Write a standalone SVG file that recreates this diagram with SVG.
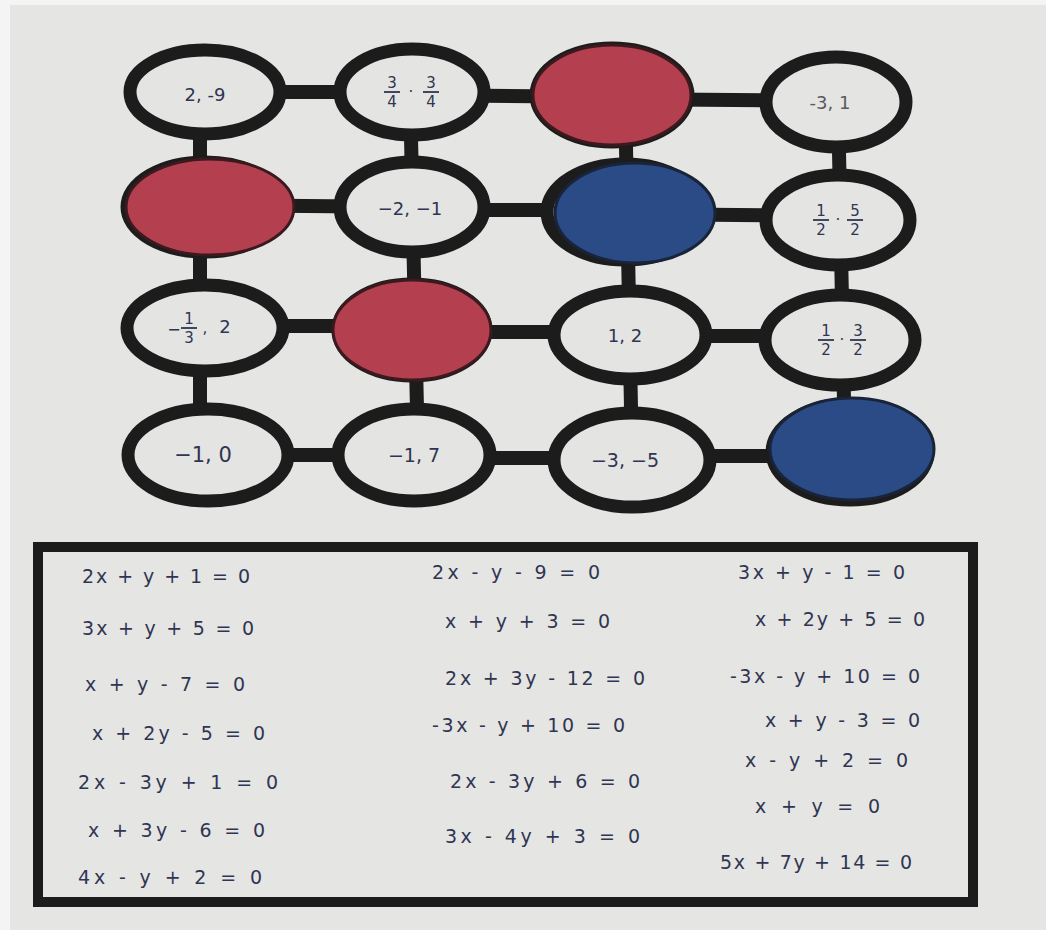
<svg xmlns="http://www.w3.org/2000/svg" width="1046" height="930" viewBox="0 0 1046 930">
<defs>
<style>
.ring{fill:#e4e4e2;stroke:#1c1c1c;stroke-width:13}
.red{fill:#b33f4f;stroke:#3a1a1e;stroke-width:3}
.blue{fill:#2b4b87;stroke:#1a2438;stroke-width:3}
.conn{stroke:#1c1c1c;stroke-width:14;stroke-linecap:butt;fill:none}
.lbl{font-family:"DejaVu Sans","Liberation Sans",sans-serif;font-size:18px;fill:#2f3552;text-anchor:middle;dominant-baseline:central}
.frac{font-family:"DejaVu Sans","Liberation Sans",sans-serif;font-size:15px;fill:#2f3552;text-anchor:middle}
.fl{stroke:#2f3552;stroke-width:1.8}
.eq{font-family:"DejaVu Sans","Liberation Sans",sans-serif;font-size:19px;fill:#2f3552;dominant-baseline:central}
</style>
</defs>
<rect x="0" y="0" width="1046" height="930" fill="#e5e5e3"/>
<rect x="0" y="0" width="10" height="930" fill="#f4f4f4"/>
<rect x="0" y="0" width="1046" height="5" fill="#f4f4f4"/>

<g id="connectors">
<line class="conn" x1="205" y1="92" x2="410" y2="92"/>
<line class="conn" x1="410" y1="95" x2="612" y2="97"/>
<line class="conn" x1="612" y1="99" x2="835" y2="101"/>
<line class="conn" x1="208" y1="205" x2="410" y2="207"/>
<line class="conn" x1="410" y1="210" x2="632" y2="210"/>
<line class="conn" x1="632" y1="214" x2="838" y2="216"/>
<line class="conn" x1="205" y1="326" x2="412" y2="326"/>
<line class="conn" x1="412" y1="332" x2="630" y2="332"/>
<line class="conn" x1="630" y1="336" x2="840" y2="336"/>
<line class="conn" x1="208" y1="455" x2="412" y2="455"/>
<line class="conn" x1="412" y1="458" x2="630" y2="458"/>
<line class="conn" x1="630" y1="456" x2="852" y2="456"/>
<line class="conn" x1="200" y1="92" x2="200" y2="455"/>
<line class="conn" x1="410" y1="92" x2="418" y2="455"/>
<line class="conn" x1="625" y1="95" x2="632" y2="460"/>
<line class="conn" x1="838" y1="102" x2="845" y2="450"/>
</g>

<g id="n11"><ellipse class="ring" cx="205" cy="92" rx="75" ry="42"/><text class="lbl" x="205" y="94">2, -9</text></g>
<g id="n12"><ellipse class="ring" cx="412" cy="92" rx="72" ry="43"/>
<text class="frac" x="392" y="88">3</text><line class="fl" x1="384" y1="92" x2="400" y2="92"/><text class="frac" x="392" y="107">4</text>
<text class="frac" x="411" y="97">·</text>
<text class="frac" x="431" y="88">3</text><line class="fl" x1="423" y1="92" x2="439" y2="92"/><text class="frac" x="431" y="107">4</text></g>
<g id="n13"><ellipse class="ring" cx="612" cy="95" rx="76" ry="47"/><ellipse class="red" cx="612" cy="95" rx="79" ry="50"/></g>
<g id="n14"><ellipse class="ring" cx="836" cy="102" rx="70" ry="45"/><text class="lbl" x="830" y="102" style="fill:#5a5a60">-3, 1</text></g>

<g id="n21"><ellipse class="ring" cx="205" cy="207" rx="78" ry="45"/><ellipse class="red" cx="210" cy="207" rx="84" ry="48"/></g>
<g id="n22"><ellipse class="ring" cx="412" cy="207" rx="72" ry="45"/><text class="lbl" x="410" y="208">−2, −1</text></g>
<g id="n23"><ellipse class="ring" cx="625" cy="212" rx="78" ry="48"/><ellipse class="blue" cx="635" cy="213" rx="80" ry="50"/></g>
<g id="n24"><ellipse class="ring" cx="838" cy="220" rx="72" ry="45"/>
<text class="frac" x="821" y="216">1</text><line class="fl" x1="813" y1="220" x2="829" y2="220"/><text class="frac" x="821" y="235">2</text>
<text class="frac" x="838" y="225">·</text>
<text class="frac" x="855" y="216">5</text><line class="fl" x1="847" y1="220" x2="863" y2="220"/><text class="frac" x="855" y="235">2</text></g>

<g id="n31"><ellipse class="ring" cx="205" cy="328" rx="78" ry="43"/>
<text class="lbl" x="174" y="329" style="font-size:16px">−</text>
<text class="frac" x="189" y="324">1</text><line class="fl" x1="181" y1="328" x2="197" y2="328"/><text class="frac" x="189" y="343">3</text>
<text class="frac" x="205" y="333">,</text>
<text class="lbl" x="225" y="326">2</text></g>
<g id="n32"><ellipse class="ring" cx="412" cy="330" rx="74" ry="46"/><ellipse class="red" cx="412" cy="330" rx="79" ry="50"/></g>
<g id="n33"><ellipse class="ring" cx="630" cy="335" rx="76" ry="44"/><text class="lbl" x="625" y="335">1, 2</text></g>
<g id="n34"><ellipse class="ring" cx="840" cy="340" rx="75" ry="45"/>
<text class="frac" x="826" y="336">1</text><line class="fl" x1="818" y1="340" x2="834" y2="340"/><text class="frac" x="826" y="355">2</text>
<text class="frac" x="842" y="345">·</text>
<text class="frac" x="858" y="336">3</text><line class="fl" x1="850" y1="340" x2="866" y2="340"/><text class="frac" x="858" y="355">2</text></g>

<g id="n41"><ellipse class="ring" cx="208" cy="455" rx="80" ry="46"/><text class="lbl" x="203" y="455" style="font-size:21px">−1, 0</text></g>
<g id="n42"><ellipse class="ring" cx="414" cy="455" rx="76" ry="46"/><text class="lbl" x="414" y="455" style="font-size:19px">−1, 7</text></g>
<g id="n43"><ellipse class="ring" cx="632" cy="460" rx="78" ry="47"/><text class="lbl" x="625" y="460" style="font-size:19px">−3, −5</text></g>
<g id="n44"><ellipse class="ring" cx="850" cy="452" rx="78" ry="48"/><ellipse class="blue" cx="852" cy="449" rx="82" ry="51"/></g>

<g id="equations">
<rect x="38" y="547" width="935" height="355" fill="none" stroke="#1c1c1c" stroke-width="10"/>
<text class="eq" x="82" y="576" textLength="168" lengthAdjust="spacing">2x + y + 1 = 0</text>
<text class="eq" x="82" y="628" textLength="172" lengthAdjust="spacing">3x + y + 5 = 0</text>
<text class="eq" x="85" y="684" textLength="160" lengthAdjust="spacing">x + y - 7 = 0</text>
<text class="eq" x="92" y="733" textLength="173" lengthAdjust="spacing">x + 2y - 5 = 0</text>
<text class="eq" x="78" y="782" textLength="200" lengthAdjust="spacing">2x - 3y + 1 = 0</text>
<text class="eq" x="88" y="830" textLength="177" lengthAdjust="spacing">x + 3y - 6 = 0</text>
<text class="eq" x="78" y="877" textLength="184" lengthAdjust="spacing">4x - y + 2 = 0</text>

<text class="eq" x="432" y="572" textLength="168" lengthAdjust="spacing">2x - y - 9 = 0</text>
<text class="eq" x="445" y="621" textLength="165" lengthAdjust="spacing">x + y + 3 = 0</text>
<text class="eq" x="445" y="678" textLength="200" lengthAdjust="spacing">2x + 3y - 12 = 0</text>
<text class="eq" x="432" y="725" textLength="193" lengthAdjust="spacing">-3x - y + 10 = 0</text>
<text class="eq" x="450" y="781" textLength="190" lengthAdjust="spacing">2x - 3y + 6 = 0</text>
<text class="eq" x="445" y="836" textLength="195" lengthAdjust="spacing">3x - 4y + 3 = 0</text>

<text class="eq" x="738" y="572" textLength="167" lengthAdjust="spacing">3x + y - 1 = 0</text>
<text class="eq" x="755" y="619" textLength="170" lengthAdjust="spacing">x + 2y + 5 = 0</text>
<text class="eq" x="730" y="676" textLength="190" lengthAdjust="spacing">-3x - y + 10 = 0</text>
<text class="eq" x="765" y="720" textLength="155" lengthAdjust="spacing">x + y - 3 = 0</text>
<text class="eq" x="745" y="760" textLength="163" lengthAdjust="spacing">x - y + 2 = 0</text>
<text class="eq" x="755" y="806" textLength="125" lengthAdjust="spacing">x + y = 0</text>
<text class="eq" x="720" y="862" textLength="192" lengthAdjust="spacing">5x + 7y + 14 = 0</text>
</g>
</svg>
